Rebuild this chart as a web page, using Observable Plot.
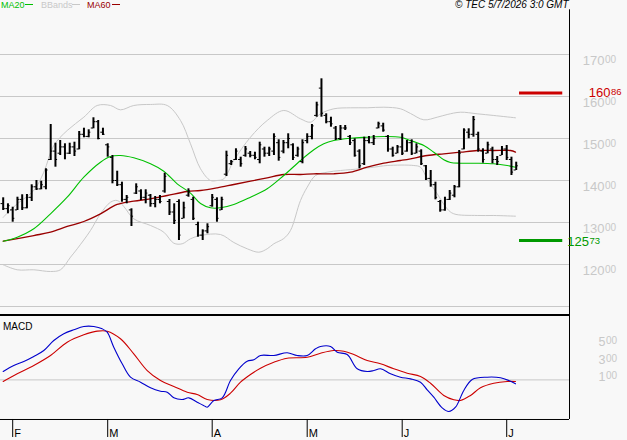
<!DOCTYPE html>
<html><head><meta charset="utf-8">
<script src="https://cdn.jsdelivr.net/npm/d3@7"></script>
<script src="https://cdn.jsdelivr.net/npm/@observablehq/plot@0.6"></script>
<style>
html,body{margin:0;padding:0;background:#f8f8f8;}
#chart{position:relative;width:627px;height:440px;overflow:hidden;background:#f8f8f8;font-family:"Liberation Sans",Arial,sans-serif;}
#chart svg{position:absolute;left:0;}
.lab{position:absolute;white-space:nowrap;line-height:10px;}
.key{position:absolute;height:0;border-top:1px solid;}
</style></head>
<body><div id="chart"></div>
<script>
// ---- price bars (trading-day index 0 = 29 Jan 2026) ----
const opens  = [134.5,133.3,133.0,133.0,135.5,133.5,136.0,138.5,138.0,138.5,145.0,147.0,146.5,148.0,146.5,148.0,147.5,151.0,150.5,152.5,154.0,151.5,148.5,145.5,140.0,139.0,135.5,133.0,137.0,137.5,136.0,136.5,134.5,135.5,137.5,135.0,132.5,135.0,131.0,136.5,135.5,129.5,127.0,128.0,134.0,135.5,133.0,141.5,144.0,145.0,145.0,146.0,146.5,146.0,145.0,147.5,146.5,147.0,149.0,147.0,149.0,148.5,146.0,144.5,149.5,150.5,155.5,162.0,155.5,154.0,152.5,150.0,152.5,150.5,149.5,147.0,144.0,149.5,149.0,152.5,153.0,150.5,147.5,146.5,148.0,147.0,149.0,146.5,147.0,143.5,140.5,139.0,135.0,133.0,135.5,136.5,138.5,147.5,151.5,151.0,151.0,147.0,146.5,147.5,145.0,146.0,147.5,145.0,142.5];
const highs  = [135.88,134.45,133.64,136.02,136.60,136.67,138.98,140.00,139.83,142.79,153.33,148.88,149.52,148.74,148.88,149.12,151.67,152.45,152.07,154.93,154.29,152.45,148.74,145.95,142.21,139.60,136.43,133.26,139.21,137.79,137.79,136.67,136.19,136.43,141.74,135.48,134.45,135.40,134.83,138.02,136.02,130.07,128.26,129.69,136.67,135.88,136.02,146.98,144.76,147.55,145.55,148.10,146.90,146.74,149.12,147.93,147.93,151.12,149.69,149.52,151.12,148.74,147.93,149.69,151.12,153.33,158.64,164.21,155.88,155.07,152.86,153.10,153.10,150.71,149.93,147.31,150.31,150.48,150.71,153.88,153.64,150.71,147.93,148.33,151.12,149.52,149.69,148.74,147.31,143.57,142.38,139.60,135.24,136.02,137.62,138.81,147.14,152.31,152.31,155.24,151.50,147.55,149.12,147.93,145.71,148.10,148.33,145.55,144.36];
const lows   = [132.86,132.07,130.07,132.86,132.86,133.26,135.00,137.62,137.79,137.79,144.76,143.17,145.95,144.93,146.19,145.71,147.31,150.17,150.17,152.31,149.69,150.71,145.55,139.21,138.57,134.83,134.45,129.05,136.67,135.24,134.45,133.64,133.50,134.45,136.98,131.67,129.52,125.71,130.88,136.02,130.48,126.50,125.71,127.31,133.64,130.07,132.86,140.95,143.57,144.76,143.17,145.55,145.40,144.93,143.98,145.55,145.71,145.95,144.60,146.36,147.55,144.76,145.55,143.98,148.74,149.69,155.07,155.07,153.50,152.69,149.52,149.52,151.90,148.33,145.55,142.79,143.57,148.74,148.33,152.31,151.50,146.74,145.55,146.36,145.95,146.74,145.95,146.36,143.57,140.00,138.40,135.40,132.45,132.69,135.24,135.88,138.26,147.31,149.93,150.31,146.74,144.12,146.36,143.98,143.57,145.95,144.76,141.19,142.38];
const closes = [133.3,134.0,131.0,135.5,133.5,136.0,138.5,138.0,139.0,142.5,147.0,145.0,148.0,146.5,148.0,147.0,151.0,150.5,151.5,154.0,150.0,151.0,148.0,140.0,139.0,135.5,136.0,131.5,138.5,136.0,137.0,134.5,135.5,135.0,141.0,132.5,130.5,127.0,133.5,137.5,131.0,127.0,128.0,129.0,136.0,131.0,135.5,146.0,144.5,147.0,144.0,147.5,146.0,145.5,148.5,146.5,147.5,150.5,145.5,149.0,150.0,145.5,147.5,149.0,150.5,153.0,158.0,156.0,154.0,153.5,150.0,152.5,152.5,149.0,146.0,143.5,149.5,149.0,150.0,153.5,152.0,147.5,146.0,148.0,146.5,149.0,146.5,148.0,144.0,140.5,139.0,136.0,133.0,135.5,137.0,138.5,146.5,152.0,151.0,154.5,147.5,145.0,148.5,145.0,144.5,147.5,145.5,142.0,143.5];

// ---- indicator lines: [day index, value] ----
const ma20 = [[0,125.55],[2.95,126.5],[6.44,128.5],[9.96,132.07],[13.47,136.02],[16.97,140.79],[20.48,144.36],[22.59,145.71],[24.69,145.95],[27.49,145.4],[31.01,143.98],[33.81,142.21],[36.63,139.21],[39.43,136.98],[41.54,134.52],[43.64,133.5],[45.75,133.5],[48.55,134.29],[52.06,136.02],[55.58,138.02],[59.07,141.19],[62.59,144.76],[65.39,147.31],[67.49,148.74],[69.6,149.52],[73.12,150.07],[76.63,150.31],[80.13,150.48],[83.64,150.31],[85.75,149.52],[88.55,148.33],[90.65,146.74],[92.76,144.93],[94.17,144.29],[96.27,144.12],[99.79,144.12],[103.28,143.98],[106.1,143.57],[107.85,143.17]];
const ma60 = [[0,125.55],[6.44,126.9],[9.96,127.69],[13.47,129.05],[16.97,130.24],[20.48,132.07],[24,134.29],[27.49,135.07],[31.01,135.64],[34.53,136.43],[38.74,137.38],[41.54,137.62],[45.05,138.26],[48.55,139.05],[52.06,139.83],[55.58,140.64],[59.07,141.43],[62.59,141.43],[65.39,141.6],[69.6,141.6],[73.12,141.98],[76.63,143.17],[80.13,144.12],[83.64,144.76],[85.75,145.17],[89.26,145.95],[92.76,146.36],[96.27,146.74],[99.79,147.14],[103.28,147.14],[106.8,147.14],[107.85,146.74]];
const bbUpper = [[0,131.26],[2.95,134.45],[6.44,137.62],[8.55,141.98],[10.65,148.33],[13.47,151.9],[16.97,155.07],[19.79,157.86],[22.59,157.86],[24.69,156.83],[27.49,157.86],[31.01,158.1],[34.53,157.86],[37.33,154.29],[39.43,148.74],[41.54,142.79],[43.64,140.0],[45.05,140.0],[46.44,140.4],[48.55,144.76],[52.06,150.31],[55.58,154.29],[59.07,156.67],[62.59,154.69],[64.69,153.88],[66.8,155.88],[69.6,157.07],[73.12,157.31],[76.63,157.31],[80.13,157.45],[83.64,157.07],[85.75,155.95],[88.55,154.45],[91.37,155.07],[93.47,155.71],[96.27,156.26],[99.79,155.88],[103.28,155.48],[107.85,154.93]];
const bbLower = [[0,119.93],[2.95,118.74],[6.44,118.74],[9.96,118.33],[12.06,118.74],[14.17,121.74],[15.58,123.74],[18.38,128.1],[20.48,132.07],[22.59,134.83],[24,135.24],[25.39,133.81],[27.49,130.88],[31.01,129.29],[33.81,127.69],[35.92,125.07],[37.68,124.93],[39.43,126.12],[41.54,126.9],[45.75,127.14],[48.55,125.24],[51.37,123.74],[53.81,122.93],[55.58,123.74],[56.97,124.93],[59.07,126.19],[60.48,128.1],[62.59,135.24],[64,138.4],[65.75,141.19],[68.21,141.98],[71.01,142.38],[75.22,142.79],[78.02,143.17],[80.84,143.57],[86.44,143.57],[87.85,143.17],[89.26,140.4],[91.37,136.83],[93.47,133.26],[94.86,132.07],[99.79,131.67],[103.28,131.67],[107.85,131.5]];
const macdLine = [[0,0.96],[2.23,1.65],[4.34,2.10],[6.44,2.67],[8.55,3.36],[10.65,4.50],[12.76,5.27],[14.86,5.73],[16.97,6.10],[19.07,6.10],[20.84,5.84],[21.89,5.45],[23.28,3.74],[25.05,1.84],[26.8,0.31],[28.91,-0.26],[31.01,-0.90],[33.12,-1.29],[34.53,-1.41],[35.92,-2.05],[37.68,-2.24],[39.07,-2.05],[40.84,-2.55],[42.59,-3.04],[42.94,-3.12],[44.35,-2.35],[46.11,-2.05],[47.85,-0.07],[49.6,1.27],[51.37,2.14],[52.76,2.30],[54.17,2.79],[56.97,2.79],[59.79,3.10],[61.89,2.79],[64,2.79],[65.75,3.55],[66.8,3.82],[68.91,3.82],[70.32,3.17],[72.42,2.90],[74.53,1.27],[76.63,0.96],[78.02,1.07],[79.43,1.27],[81.54,0.70],[83.64,0.31],[85.75,0.12],[87.85,-0.26],[89.26,-1.13],[90.65,-1.98],[92.42,-3.19],[93.81,-3.61],[95.22,-3.12],[96.97,-1.21],[98.74,0.05],[101.9,0.31],[104.7,0.24],[106.44,-0.07],[107.85,-0.45]];
const signalLine = [[0,-0.18],[2.95,0.70],[6.44,1.65],[9.96,2.79],[13.47,4.31],[16.97,5.15],[19.79,5.57],[21.89,5.57],[24.69,4.70],[27.49,2.98],[30.32,1.07],[33.12,-0.07],[35.92,-0.75],[38.74,-1.41],[40.84,-1.67],[42.94,-2.24],[45.75,-2.27],[47.85,-1.52],[49.96,-0.26],[52.06,0.62],[54.17,1.34],[56.97,2.02],[59.79,2.48],[64,2.59],[66.8,3.05],[69.6,3.36],[71.71,3.28],[73.81,2.90],[76.63,2.22],[79.43,1.84],[82.23,1.27],[85.05,0.77],[87.85,0.39],[89.96,-0.38],[92.76,-1.78],[94.86,-2.27],[96.27,-2.35],[98.38,-1.78],[100.48,-0.90],[103.28,-0.38],[106.1,-0.18],[107.85,-0.18]];

// ---- axes / levels ----
const priceGrid = [110,120,130,140,150,160,170];
const priceLabels = [120,130,140,150,160,170];
const macdLabels = [1,3,5];
const monthTicks = [2,22,44,64,84,106];
const monthLabels = ["F","M","A","M","J","J"];
const resistance = 160.86, support = 125.73;

const FONT = '"Liberation Sans Narrow","Liberation Sans",Arial,sans-serif';
const GRID = "#c8c8c8";
const xDomain = [-0.568, 119.22];
const bars = d3.range(highs.length).map(i => ({i, o: opens[i], h: highs[i], l: lows[i], c: closes[i]}));
const intPart = v => String(Math.floor(v + 1e-9));
const decPart = v => String(Math.round((v - Math.floor(v + 1e-9)) * 100)).padStart(2, "0");
const lastI = highs.length - 1;

const main = Plot.plot({
  width: 627, height: 315, marginTop: 0, marginBottom: 0, marginLeft: 0, marginRight: 58,
  style: {background: "transparent", overflow: "visible", fontFamily: FONT},
  x: {domain: xDomain, axis: null},
  y: {domain: [107.857, 182.857], axis: null},
  marks: [
    Plot.ruleY(priceGrid, {stroke: GRID, strokeWidth: 1}),
    Plot.line(bbUpper, {x: d => d[0], y: d => d[1], stroke: GRID, strokeWidth: 1, curve: "catmull-rom"}),
    Plot.line(bbLower, {x: d => d[0], y: d => d[1], stroke: GRID, strokeWidth: 1, curve: "catmull-rom"}),
    Plot.line(ma60, {x: d => d[0], y: d => d[1], stroke: "#990000", strokeWidth: 1.3, curve: "catmull-rom"}),
    Plot.line(ma20, {x: d => d[0], y: d => d[1], stroke: "#00c000", strokeWidth: 1.1, curve: "catmull-rom"}),
    Plot.ruleX(bars, {x: "i", y1: "l", y2: "h", stroke: "#000", strokeWidth: 2}),
    Plot.ruleY(bars, {y: "o", x1: d => d.i - 0.45, x2: "i", stroke: "#000", strokeWidth: 1}),
    Plot.ruleY(bars, {y: "c", x1: "i", x2: d => d.i + 0.45, stroke: "#000", strokeWidth: 1}),
    Plot.ruleY([resistance], {x1: lastI + 0.7, x2: lastI + 9.8, stroke: "#cc0000", strokeWidth: 3}),
    Plot.ruleY([support], {x1: lastI + 0.7, x2: lastI + 9.8, stroke: "#009900", strokeWidth: 3}),
    Plot.ruleX([xDomain[1]], {y1: 180.64, y2: 107.857, stroke: "#000", strokeWidth: 1}),
    Plot.text(priceLabels, {x: xDomain[1], y: d => d, text: intPart, textAnchor: "end", lineAnchor: "top", dx: 35, dy: 0.8, fill: GRID, fontSize: 13}),
    Plot.text(priceLabels, {x: xDomain[1], y: d => d, text: decPart, textAnchor: "start", lineAnchor: "top", dx: 35.5, dy: 1.2, fill: GRID, fontSize: 10}),
    Plot.text([resistance], {x: xDomain[1], y: d => d, text: intPart, textAnchor: "end", lineAnchor: "top", dx: 41, dy: -5, fill: "#cc0000", fontSize: 13}),
    Plot.text([resistance], {x: xDomain[1], y: d => d, text: decPart, textAnchor: "start", lineAnchor: "top", dx: 41.5, dy: -4.4, fill: "#cc0000", fontSize: 9.5}),
    Plot.text([support], {x: xDomain[1], y: d => d, text: intPart, textAnchor: "end", lineAnchor: "top", dx: 19.5, dy: -4, fill: "#009900", fontSize: 13}),
    Plot.text([support], {x: xDomain[1], y: d => d, text: decPart, textAnchor: "start", lineAnchor: "top", dx: 20, dy: -3.4, fill: "#009900", fontSize: 9.5})
  ]
});

const macdTop = 7.418, macdBottom = -4.525, tickEnd = -6.582;
const macd = Plot.plot({
  width: 627, height: 127, marginTop: 0, marginBottom: 0, marginLeft: 0, marginRight: 58,
  style: {background: "transparent", overflow: "visible", fontFamily: FONT},
  x: {domain: xDomain, axis: null},
  y: {domain: [-6.926, 7.589], axis: null},
  marks: [
    Plot.ruleY([0], {stroke: GRID, strokeWidth: 1}),
    Plot.line(signalLine, {x: d => d[0], y: d => d[1], stroke: "#cc0000", strokeWidth: 1.1, curve: "catmull-rom"}),
    Plot.line(macdLine, {x: d => d[0], y: d => d[1], stroke: "#0000cc", strokeWidth: 1.1, curve: "catmull-rom"}),
    Plot.ruleY([macdTop], {stroke: "#000", strokeWidth: 2}),
    Plot.ruleY([macdBottom], {stroke: "#000", strokeWidth: 1}),
    Plot.ruleX([xDomain[1]], {y1: macdBottom, y2: macdTop, stroke: "#000", strokeWidth: 1}),
    Plot.ruleX(monthTicks, {x: d => d, y1: macdBottom, y2: tickEnd, stroke: "#000", strokeWidth: 1}),
    Plot.text(monthTicks, {x: d => d, text: (d, i) => monthLabels[i], frameAnchor: "bottom", lineAnchor: "bottom", textAnchor: "start", dx: 1.5, dy: -3.3, fill: "#000", fontSize: 11, fontFamily: '"Liberation Sans",Arial,sans-serif'}),
    Plot.text(macdLabels, {x: xDomain[1], y: d => d, text: intPart, textAnchor: "end", lineAnchor: "top", dx: 36, dy: 1, fill: GRID, fontSize: 12.5}),
    Plot.text(macdLabels, {x: xDomain[1], y: d => d, text: decPart, textAnchor: "start", lineAnchor: "top", dx: 36.5, dy: 1, fill: GRID, fontSize: 10})
  ]
});

const chart = document.getElementById("chart");
main.style.top = "0px";
macd.style.top = "313px";
chart.appendChild(main);
chart.appendChild(macd);

function addLabel(text, left, top, size, color, extra) {
  const s = document.createElement("div");
  s.className = "lab";
  s.textContent = text;
  s.style.left = left + "px"; s.style.top = top + "px";
  s.style.fontSize = size + "px"; s.style.color = color;
  if (extra) Object.assign(s.style, extra);
  chart.appendChild(s);
}
function addKey(left, width, color) {
  const k = document.createElement("div");
  k.className = "key";
  k.style.left = left + "px"; k.style.top = "4px"; k.style.width = width + "px";
  k.style.borderColor = color;
  chart.appendChild(k);
}
addLabel("MA20", 1, 0, 9, "#00c000"); addKey(25, 8, "#00c000");
addLabel("BBands", 41, 0, 9, "#c8c8c8"); addKey(72, 8, "#c8c8c8");
addLabel("MA60", 87, 0, 9, "#990000"); addKey(112, 8, "#990000");
addLabel("\u00a9 TEC 5/7/2026 3:0 GMT", 455, 0, 10, "#000", {fontStyle: "italic"});
addLabel("MACD", 3, 322, 10, "#000");
</script></body></html>
